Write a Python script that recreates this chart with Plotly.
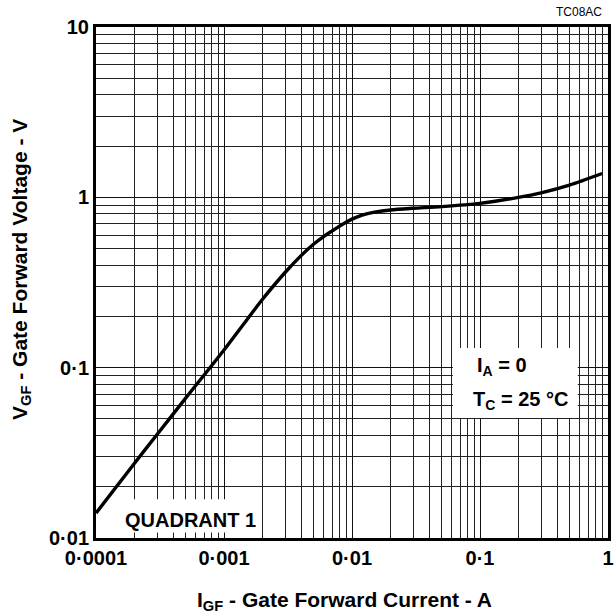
import plotly.graph_objects as go

# Gate forward current (A) and gate forward voltage (V)
current_a = [0.0001, 0.0002, 0.0003, 0.0005, 0.001, 0.0015, 0.002, 0.003, 0.004,
             0.005, 0.006, 0.007, 0.008, 0.009, 0.01, 0.012, 0.015, 0.02, 0.03,
             0.05, 0.1, 0.2, 0.3, 0.5, 0.9]
voltage_v = [0.014, 0.0275, 0.0405, 0.066, 0.127, 0.19, 0.252, 0.362, 0.455,
             0.53, 0.588, 0.635, 0.678, 0.714, 0.745, 0.787, 0.818, 0.843, 0.862,
             0.882, 0.922, 1.0, 1.063, 1.18, 1.38]

x_tick_vals = [0.0001, 0.001, 0.01, 0.1, 1]
x_tick_text = ["0·0001", "0·001", "0·01", "0·1", "1"]
y_tick_vals = [0.01, 0.1, 1, 10]
y_tick_text = ["0·01", "0·1", "1", "10"]
minor_x = [m * 10.0 ** e for e in range(-4, 0) for m in range(2, 10)]
minor_y = [m * 10.0 ** e for e in range(-2, 1) for m in range(2, 10)]

FONT = "Liberation Sans"

fig = go.Figure()
fig.add_trace(go.Scatter(
    x=current_a, y=voltage_v, mode="lines",
    line=dict(color="black", width=3.4, shape="spline", smoothing=0.8),
    showlegend=False, hoverinfo="skip"))

axis_common = dict(
    type="log", showgrid=True, gridcolor="#111", gridwidth=1.4,
    showline=True, linecolor="black", linewidth=3, mirror=True,
    ticks="", zeroline=False, automargin=False,
    tickfont=dict(family=FONT, size=20, color="black", weight="bold"),
)

fig.update_layout(
    width=616, height=616,
    margin=dict(l=96, r=8, t=27, b=78),
    paper_bgcolor="white", plot_bgcolor="white",
    xaxis=dict(
        **axis_common, range=[-4, 0],
        tickmode="array", tickvals=x_tick_vals, ticktext=x_tick_text,
        minor=dict(tickmode="array", tickvals=minor_x, showgrid=True,
                   gridcolor="#222", gridwidth=1, ticks=""),
    ),
    yaxis=dict(
        **axis_common, range=[-2, 1],
        tickmode="array", tickvals=y_tick_vals, ticktext=y_tick_text,
        minor=dict(tickmode="array", tickvals=minor_y, showgrid=True,
                   gridcolor="#222", gridwidth=1, ticks=""),
    ),
    shapes=[
        dict(type="rect", xref="paper", yref="paper", x0=0.03, x1=0.32,
             y0=0.011, y1=0.076, fillcolor="white", line=dict(width=0), layer="above"),
        dict(type="rect", xref="paper", yref="paper", x0=0.697, x1=0.941,
             y0=0.235, y1=0.372, fillcolor="white", line=dict(width=0), layer="above"),
    ],
    annotations=[
        # axis titles
        dict(text="I<sub>GF</sub> - Gate Forward Current - A", xref="paper", yref="paper",
             x=(344 - 96) / 512, y=(538 - 601) / 511, xanchor="center", yanchor="middle",
             showarrow=False,
             font=dict(family=FONT, size=21, color="black", weight="bold")),
        dict(text="V<sub>GF</sub> - Gate Forward Voltage - V", xref="paper", yref="paper",
             x=(21 - 96) / 512, y=(538 - 270) / 511, xanchor="center", yanchor="middle",
             textangle=-90, showarrow=False,
             font=dict(family=FONT, size=21, color="black", weight="bold")),
        # in-plot labels
        dict(text="QUADRANT 1", xref="paper", yref="paper", x=0.053, y=0.035,
             xanchor="left", yanchor="middle", showarrow=False,
             font=dict(family=FONT, size=20, color="black", weight="bold")),
        dict(text="I<sub>A</sub> = 0", xref="paper", yref="paper", x=0.740, y=0.335,
             xanchor="left", yanchor="middle", showarrow=False,
             font=dict(family=FONT, size=20, color="black", weight="bold")),
        dict(text="T<sub>C</sub> = 25 °C", xref="paper", yref="paper", x=0.732, y=0.27,
             xanchor="left", yanchor="middle", showarrow=False,
             font=dict(family=FONT, size=20, color="black", weight="bold")),
        dict(text="TC08AC", xref="paper", yref="paper", x=0.992, y=1.0, yshift=15,
             xanchor="right", yanchor="middle", showarrow=False,
             font=dict(family=FONT, size=12, color="black")),
    ],
)

fig.write_html("out.html", config={"displayModeBar": False},
               post_script="document.body.style.margin='0';")
